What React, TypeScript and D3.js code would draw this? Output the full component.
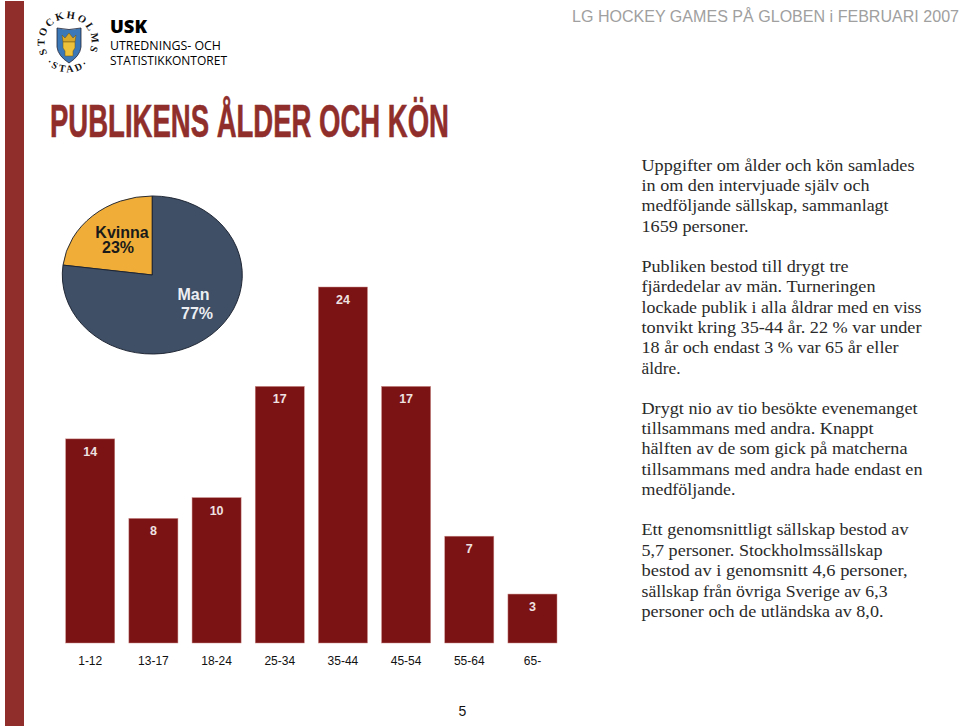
import React from "react";
import * as d3 from "d3";

const ages = ["1-12", "13-17", "18-24", "25-34", "35-44", "45-54", "55-64", "65-"];
const shares = [13.76, 8.4, 9.8, 17.3, 24, 17.3, 7.2, 3.3];
const shareLabels = ["14", "8", "10", "17", "24", "17", "7", "3"];
const genderNames = ["Kvinna", "Man"];
const genderShares = [23, 77];
const paragraphLines: [string, number, number][] = [
  ["Uppgifter om ålder och kön samlades", 171, 273],
  ["in om den intervjuade själv och", 191, 228],
  ["medföljande sällskap, sammanlagt", 211, 247],
  ["1659 personer.", 231.5, 107],
  ["Publiken bestod till drygt tre", 272, 207],
  ["fjärdedelar av män. Turneringen", 292, 234],
  ["lockade publik i alla åldrar med en viss", 312.5, 280],
  ["tonvikt kring 35-44 år. 22 % var under", 333, 280],
  ["18 år och endast 3 % var 65 år eller", 353, 257],
  ["äldre.", 373.5, 39],
  ["Drygt nio av tio besökte evenemanget", 413.5, 276],
  ["tillsammans med andra. Knappt", 433.5, 232],
  ["hälften av de som gick på matcherna", 454, 266],
  ["tillsammans med andra hade endast en", 474.5, 281],
  ["medföljande.", 494.5, 94],
  ["Ett genomsnittligt sällskap bestod av", 535, 267],
  ["5,7 personer. Stockholmssällskap", 555.5, 241],
  ["bestod av i genomsnitt 4,6 personer,", 576, 266],
  ["sällskap från övriga Sverige av 6,3", 596.5, 246],
  ["personer och de utländska av 8,0.", 616.5, 242],
];

const RED = "#7b1214";
const TITLE_RED = "#8f2e2b";
const x = d3.scaleBand().domain(ages).range([65.7, 557]).paddingInner(0.2235).paddingOuter(0);
const y = d3.scaleLinear().domain([0, 24]).range([643, 287]);
const pieArcs = d3.pie<number>().sort(null).startAngle(-(2 * Math.PI * 0.23)).endAngle(2 * Math.PI * 0.77)(genderShares);
const arc = d3.arc<d3.PieArcDatum<number>>().innerRadius(0).outerRadius(90);
const ARIAL = "Liberation Sans, Arial, sans-serif";

export default function App() {
  return (
    <svg width={960} height={726} style={{ position: "absolute", left: 0, top: 0, background: "#fff" }}>
      <rect x={5} y={1} width={19} height={725} fill={TITLE_RED} />

      <g>
        <defs>
          <path id="sealRing" d="M 47.5 53.5 A 23.5 23.5 0 1 1 88.5 53.5" />
          <path id="sealBottom" d="M 40 53 A 30 30 0 0 0 96 53" />
        </defs>
        <text fontFamily="Liberation Serif, serif" fontSize={10.5} fontWeight={700} fill="#111" letterSpacing={2.1}>
          <textPath href="#sealRing" startOffset="0">STOCKHOLMS</textPath>
        </text>
        <text fontFamily="Liberation Serif, serif" fontSize={10} fontWeight={700} fill="#111" letterSpacing={2.6} textAnchor="middle">
          <textPath href="#sealBottom" startOffset="50%">·STAD·</textPath>
        </text>
        <path d="M 57 28 Q 69 31 81 28 L 81 47 Q 80 56 69 63 Q 58 56 57 47 Z" fill="#3a78b8" stroke="#223" strokeWidth={0.8} />
        <path d="M 62 35 L 65 38 L 69 33 L 73 38 L 76 35 L 75 42 L 63 42 Z" fill="#d9a92a" stroke="#6b5314" strokeWidth={0.5} />
        <path d="M 63 42 L 75 42 L 75 48 L 73 51 L 73 56 L 65 56 L 65 51 L 63 48 Z" fill="#eec23a" stroke="#6b5314" strokeWidth={0.5} />
      </g>
      <text x={110} y={33} fontFamily="Open Sans, sans-serif" fontWeight={800} fontSize={18} fill="#000" textLength={37} lengthAdjust="spacingAndGlyphs">USK</text>
      <text x={110} y={50} fontFamily="Open Sans, sans-serif" fontSize={12.2} fill="#000" textLength={111} lengthAdjust="spacingAndGlyphs">UTREDNINGS- OCH</text>
      <text x={110} y={65} fontFamily="Open Sans, sans-serif" fontSize={12.2} fill="#000" textLength={117} lengthAdjust="spacingAndGlyphs">STATISTIKKONTORET</text>

      <text x={572} y={21.5} fontFamily={ARIAL} fontSize={16} fill="#a0a0a0" textLength={387} lengthAdjust="spacingAndGlyphs">LG HOCKEY GAMES PÅ GLOBEN i FEBRUARI 2007</text>

      <text x={50} y={137} fontFamily="Liberation Sans Narrow, Liberation Sans, sans-serif" fontWeight={700} fontSize={46} fill={TITLE_RED} stroke={TITLE_RED} strokeWidth={0.6} textLength={399} lengthAdjust="spacingAndGlyphs">PUBLIKENS ÅLDER OCH KÖN</text>

      <g transform="translate(152.3,275) scale(1,0.878)">
        {pieArcs.map((d, i) => (
          <path key={genderNames[i]} d={arc(d) ?? ""} fill={i === 0 ? "#f0ae38" : "#3e4f66"} stroke="#1c2230" strokeWidth={1} />
        ))}
      </g>
      <g fontFamily={ARIAL} fontWeight={700} fontSize={16} textAnchor="middle" fill="#1a1a1a">
        <text x={122} y={238}>{genderNames[0]}</text>
        <text x={118} y={253}>{genderShares[0]}%</text>
      </g>
      <g fontFamily={ARIAL} fontWeight={700} fontSize={16} textAnchor="middle" fill="#eceef2">
        <text x={193.5} y={300}>{genderNames[1]}</text>
        <text x={197} y={318.5}>{genderShares[1]}%</text>
      </g>

      {ages.map((a, i) => (
        <g key={a}>
          <rect x={x(a)} y={y(shares[i])} width={x.bandwidth()} height={y(0) - y(shares[i])} fill={RED} stroke="#c98a86" strokeWidth={0.5} />
          <text x={(x(a) ?? 0) + x.bandwidth() / 2} y={y(shares[i]) + 17} textAnchor="middle" fontFamily={ARIAL} fontSize={12.5} fontWeight={700} fill="#efe2e2">{shareLabels[i]}</text>
          <text x={(x(a) ?? 0) + x.bandwidth() / 2} y={665} textAnchor="middle" fontFamily={ARIAL} fontSize={12} fill="#111">{a}</text>
        </g>
      ))}

      <text x={462.5} y={715.5} textAnchor="middle" fontFamily={ARIAL} fontSize={14} fill="#111">5</text>

      <g fontFamily="Liberation Serif, serif" fontSize={17} fill="#2a2a2a">
        {paragraphLines.map(([t, ly, w]) => (
          <text key={t} x={641.5} y={ly} textLength={w} lengthAdjust="spacingAndGlyphs">{t}</text>
        ))}
      </g>
    </svg>
  );
}
